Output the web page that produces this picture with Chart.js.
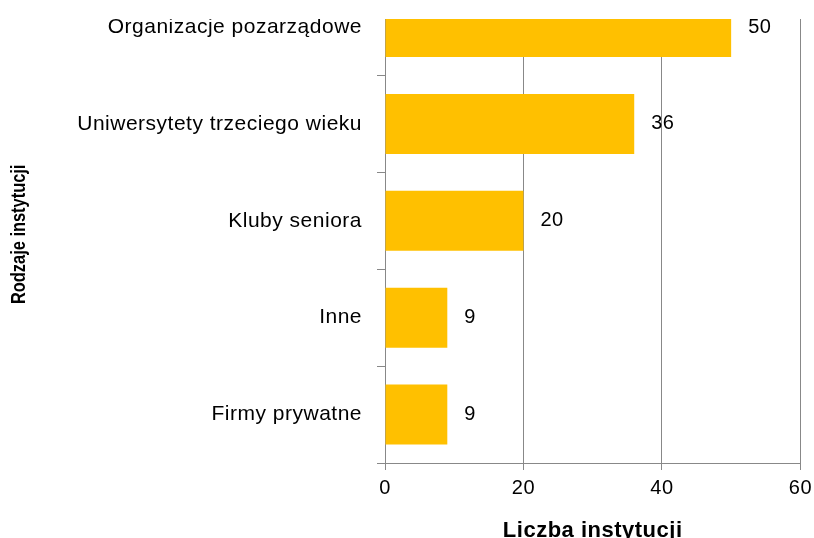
<!DOCTYPE html>
<html>
<head>
<meta charset="utf-8">
<script src="https://cdn.jsdelivr.net/npm/chart.js@4"></script>
<style>
  html, body { margin: 0; padding: 0; background: #fff; overflow: hidden; }
  body { width: 814px; height: 538px; position: relative; }
  /* okno wykresu: góra ucięta jak w oryginale */
  .box { position: absolute; left: 0; top: 19px; width: 814px; height: 519px; overflow: hidden; }
  .inner { position: absolute; left: 0; top: -68px; width: 818px; height: 598px; }
</style>
</head>
<body>
<div class="box"><div class="inner"><canvas id="myChart"></canvas></div></div>
<script>
// dane //
const categories = ['Organizacje pozarządowe', 'Uniwersytety trzeciego wieku', 'Kluby seniora', 'Inne', 'Firmy prywatne'];
const values = [50, 36, 20, 9, 9];
const xTicks = [0, 20, 40, 60];

const gridColor = '#888888';
const barColor = '#FFC000';
const fontFamily = "'Liberation Sans', Arial, sans-serif";

// odstęp liter, jak w oryginale (Excel) //
const spacing = {
  id: 'spacing',
  beforeUpdate(chart) { chart.ctx.letterSpacing = '0.5px'; },
  beforeDraw(chart) { chart.ctx.letterSpacing = '0.5px'; }
};

// etykiety przy słupkach + tytuł osi Y (zwężony) //
const valueLabels = {
  id: 'valueLabels',
  afterDatasetsDraw(chart) {
    const ctx = chart.ctx;
    const meta = chart.getDatasetMeta(0);
    ctx.save();
    ctx.font = '20px ' + fontFamily;
    ctx.fillStyle = '#000';
    ctx.textAlign = 'left';
    ctx.textBaseline = 'middle';
    meta.data.forEach((bar, i) => {
      ctx.fillText(String(values[i]), bar.x + 17, bar.y);
    });
    ctx.restore();
  },
  afterDraw(chart) {
    const ctx = chart.ctx;
    const area = chart.chartArea;
    ctx.save();
    ctx.letterSpacing = '0px';
    ctx.translate(25, (area.top + area.bottom) / 2 + 13.5);
    ctx.rotate(-Math.PI / 2);
    ctx.scale(0.82, 1);
    ctx.font = 'bold 20px ' + fontFamily;
    ctx.fillStyle = '#000';
    ctx.textAlign = 'center';
    ctx.textBaseline = 'alphabetic';
    ctx.fillText('Rodzaje instytucji', 0, 0);
    ctx.restore();
  }
};

const ctx = document.getElementById('myChart');

new Chart(ctx, {
  type: 'bar',
  data: {
    labels: categories,
    datasets: [{
      data: values,
      backgroundColor: barColor,
      borderWidth: 0,
      categoryPercentage: 1,
      barPercentage: 0.62
    }]
  },
  options: {
    indexAxis: 'y',
    responsive: true,
    maintainAspectRatio: false,
    animation: false,
    layout: { padding: 0 },
    plugins: {
      legend: { display: false },
      tooltip: { enabled: false }
    },
    scales: {
      x: {
        min: 0,
        max: 60,
        afterFit: (s) => { s.height = 86; },
        afterBuildTicks: (s) => { s.ticks = xTicks.map(v => ({ value: v })); },
        grid: { color: gridColor, tickLength: 7, lineWidth: 1 },
        border: { color: gridColor },
        ticks: { color: '#000', padding: 6, font: { family: fontFamily, size: 20 } },
        title: {
          display: true,
          text: 'Liczba instytucji',
          color: '#000',
          padding: { top: 0, bottom: 5 },
          font: { family: fontFamily, size: 22, weight: 'bold' }
        }
      },
      y: {
        afterFit: (s) => { s.width = 385; },
        grid: { drawOnChartArea: false, color: gridColor, tickLength: 8, offset: true },
        border: { color: gridColor },
        ticks: { color: '#000', padding: 15, font: { family: fontFamily, size: 21 } }
      }
    }
  },
  plugins: [spacing, valueLabels]
});
</script>
</body>
</html>
